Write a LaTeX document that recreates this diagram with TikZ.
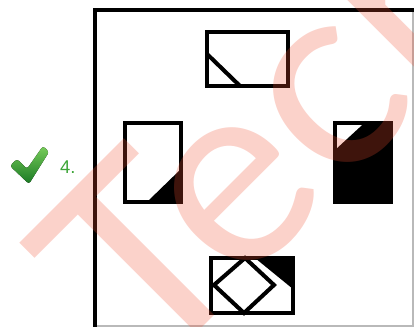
\documentclass[tikz,border=0pt]{standalone}
\usepackage{xcolor}
\usepackage{fontspec}
\setsansfont{Liberation Sans}
\newfontfamily\markfont{Lato}
\usepackage{tikz}
\usetikzlibrary{positioning}
\definecolor{tickGreen}{RGB}{60,165,55}
\definecolor{tickDark}{RGB}{25,120,35}
\definecolor{tickLight}{RGB}{120,205,90}
\definecolor{markRed}{RGB}{240,80,50}
\definecolor{edgeGrey}{RGB}{185,185,185}
\tikzset{
    fig/.style={line width=2.3pt, line join=miter},
    blk/.style={fill=black, draw=none}
}

\begin{document}
\begin{tikzpicture}[x=0.02cm, y=-0.02cm]
    \useasboundingbox (0,0) rectangle (414,327);
    \clip (0,0) rectangle (414,327);

    % Answer frame
    \draw[fig] (95,340) -- (95,10) -- (430,10);
    \draw[edgeGrey, line width=0.6pt] (97,326) -- (413,326) -- (413,12);

    % Top figure
    \draw[fig] (207,32) rectangle (288,86);
    \draw[fig] (207,54) -- (240,86);

    % Left figure
    \fill[blk] (181,169) -- (181,202) -- (147,202) -- cycle;
    \draw[fig] (125,123) rectangle (181,202);

    % Right figure
    \fill[blk] (335,123) rectangle (391,202);
    \fill[white] (337,125) -- (362,125) -- (337,148) -- cycle;
    \draw[fig] (335,123) rectangle (391,202);

    % Bottom figure
    \fill[blk] (255,258) -- (293,258) -- (293,289) -- cycle;
    \draw[fig] (211,258) rectangle (293,313);
    \draw[fig] (245,258) -- (274,285) -- (244,313) -- (214,285) -- cycle;

    % Option label
    \fill[top color=tickLight, bottom color=tickDark, rounded corners=1.5pt]
        (10,166) -- (17,159) -- (27,169) -- (43,146) -- (49,152) -- (29,184) -- cycle;
    \node[tickGreen, font=\sffamily\fontsize{10.5}{11}\selectfont, anchor=base west]
        (num) at (54,174) {4.};

    % Watermark
    \node[markRed, opacity=0.26, rotate=45, anchor=base west, inner sep=0pt,
          font=\markfont\fontsize{150}{150}\selectfont] (wm) at (150,380) {Tech};
\end{tikzpicture}
\end{document}
